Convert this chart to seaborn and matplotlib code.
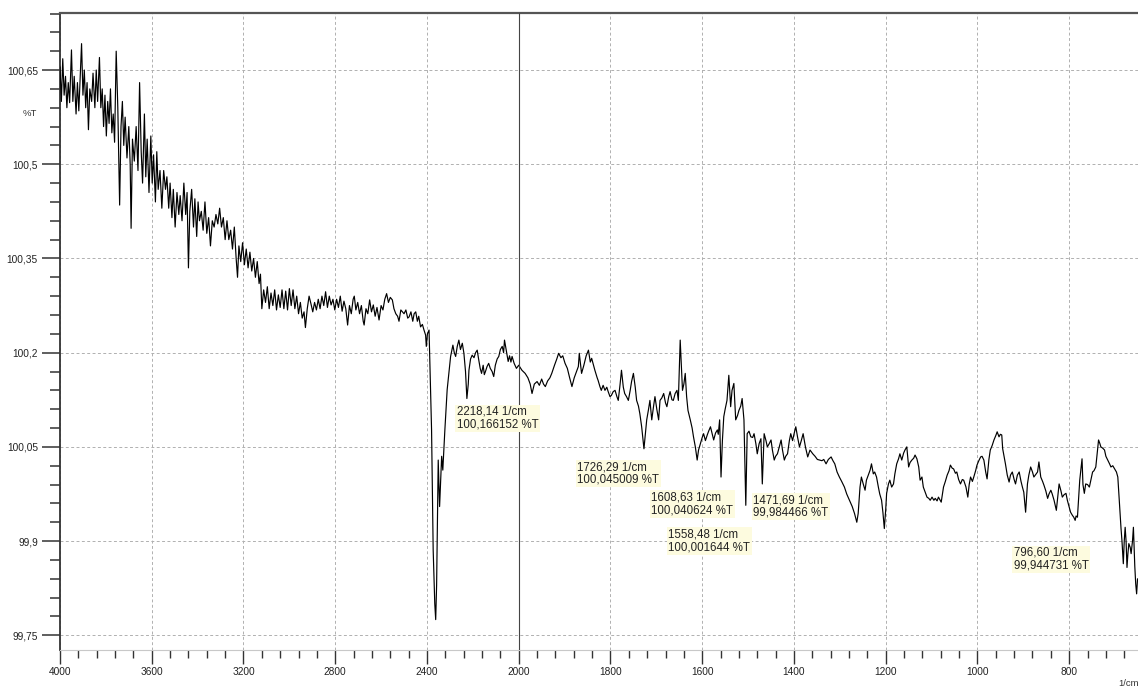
import numpy as np
import pandas as pd
import matplotlib
matplotlib.use("Agg")
import matplotlib.pyplot as plt
import seaborn as sns

# ---------------- data ----------------
seg_4000_2800 = [
    (4000, 100.655), (3994, 100.600), (3988, 100.668), (3982, 100.610), (3976, 100.640),
    (3970, 100.590), (3964, 100.630), (3958, 100.598), (3950, 100.682), (3944, 100.600),
    (3938, 100.640), (3930, 100.580), (3924, 100.630), (3918, 100.585), (3912, 100.640),
    (3906, 100.692), (3900, 100.610), (3894, 100.650), (3888, 100.590), (3882, 100.630),
    (3876, 100.555), (3870, 100.620), (3862, 100.600), (3856, 100.645), (3848, 100.590),
    (3842, 100.650), (3836, 100.600), (3828, 100.670), (3822, 100.590), (3816, 100.620),
    (3810, 100.560), (3804, 100.610), (3798, 100.545), (3792, 100.600), (3786, 100.565),
    (3780, 100.620), (3774, 100.550), (3768, 100.580), (3762, 100.535), (3755, 100.680),
    (3748, 100.590), (3740, 100.435), (3734, 100.560), (3728, 100.600), (3722, 100.530),
    (3716, 100.575), (3708, 100.510), (3700, 100.560), (3694, 100.500), (3690, 100.398),
    (3684, 100.540), (3676, 100.505), (3668, 100.560), (3660, 100.490), (3653, 100.630),
    (3646, 100.520), (3640, 100.470), (3632, 100.580), (3626, 100.480), (3620, 100.540),
    (3612, 100.455), (3604, 100.545), (3598, 100.470), (3592, 100.515), (3584, 100.440),
    (3578, 100.520), (3572, 100.460), (3564, 100.490), (3556, 100.430), (3548, 100.490),
    (3540, 100.460), (3534, 100.480), (3526, 100.430), (3520, 100.470), (3512, 100.415),
    (3506, 100.460), (3498, 100.400), (3490, 100.455), (3482, 100.420), (3476, 100.450),
    (3468, 100.410), (3460, 100.470), (3452, 100.420), (3446, 100.455), (3440, 100.335),
    (3434, 100.425), (3426, 100.460), (3418, 100.400), (3412, 100.445), (3404, 100.385),
    (3398, 100.440), (3392, 100.410), (3384, 100.425), (3376, 100.395), (3368, 100.440),
    (3360, 100.390), (3352, 100.415), (3344, 100.370), (3336, 100.410), (3328, 100.400),
    (3320, 100.420), (3312, 100.405), (3304, 100.430), (3296, 100.400), (3288, 100.415),
    (3280, 100.380), (3272, 100.410), (3264, 100.380), (3256, 100.395), (3248, 100.365),
    (3240, 100.400), (3232, 100.350), (3226, 100.320), (3220, 100.370), (3212, 100.345),
    (3204, 100.375), (3196, 100.340), (3188, 100.365), (3180, 100.335), (3172, 100.360),
    (3164, 100.330), (3156, 100.350), (3148, 100.320), (3140, 100.345), (3132, 100.310),
    (3126, 100.325), (3120, 100.270), (3112, 100.300), (3104, 100.280), (3096, 100.305),
    (3088, 100.270), (3080, 100.295), (3072, 100.275), (3064, 100.300), (3056, 100.268),
    (3048, 100.292), (3040, 100.272), (3032, 100.300), (3024, 100.270), (3016, 100.298),
    (3008, 100.268), (3000, 100.302), (2992, 100.275), (2984, 100.300), (2976, 100.270),
    (2968, 100.290), (2960, 100.262), (2952, 100.280), (2944, 100.255), (2936, 100.265),
    (2930, 100.240), (2922, 100.270), (2914, 100.290), (2906, 100.278), (2898, 100.265),
    (2890, 100.280), (2882, 100.268), (2874, 100.285), (2866, 100.270), (2858, 100.290),
    (2850, 100.275), (2842, 100.297), (2834, 100.272), (2826, 100.290), (2818, 100.276),
    (2810, 100.285),
]

seg_2800_2000 = [
    (2802, 100.268), (2794, 100.285), (2786, 100.272), (2778, 100.290), (2770, 100.266),
    (2762, 100.282), (2754, 100.270), (2746, 100.244), (2738, 100.275), (2730, 100.262),
    (2722, 100.285), (2717, 100.290), (2710, 100.268), (2702, 100.280), (2694, 100.262),
    (2686, 100.275), (2678, 100.250), (2674, 100.244), (2666, 100.270), (2658, 100.262),
    (2650, 100.284), (2642, 100.265), (2634, 100.276), (2626, 100.258), (2618, 100.272),
    (2609, 100.252), (2600, 100.275), (2592, 100.268), (2584, 100.285), (2576, 100.294),
    (2568, 100.280), (2560, 100.288), (2551, 100.284), (2544, 100.270), (2536, 100.262),
    (2528, 100.258), (2522, 100.250), (2514, 100.268), (2507, 100.265), (2500, 100.262),
    (2492, 100.268), (2484, 100.255), (2478, 100.257), (2470, 100.265), (2462, 100.250),
    (2456, 100.262), (2449, 100.265), (2442, 100.250), (2436, 100.258), (2428, 100.241),
    (2420, 100.245), (2413, 100.236), (2406, 100.228), (2403, 100.210), (2398, 100.230),
    (2391, 100.236), (2388, 100.194), (2380, 100.077), (2373, 99.886), (2366, 99.800),
    (2362, 99.775), (2358, 99.830), (2355, 99.918), (2351, 100.029), (2345, 99.955),
    (2336, 100.035), (2331, 100.013), (2322, 100.077), (2312, 100.141), (2297, 100.194),
    (2287, 100.212), (2281, 100.200), (2275, 100.194), (2268, 100.210), (2261, 100.220),
    (2254, 100.205), (2246, 100.215), (2239, 100.199), (2232, 100.170), (2226, 100.127),
    (2220, 100.150), (2217, 100.172), (2210, 100.190), (2203, 100.196), (2195, 100.192),
    (2188, 100.200), (2181, 100.204), (2175, 100.190), (2168, 100.175), (2162, 100.167),
    (2155, 100.180), (2150, 100.165), (2145, 100.170), (2138, 100.178), (2131, 100.183),
    (2124, 100.175), (2116, 100.170), (2109, 100.162), (2102, 100.180), (2094, 100.190),
    (2087, 100.194), (2080, 100.205), (2072, 100.210), (2066, 100.200), (2062, 100.220),
    (2055, 100.205), (2046, 100.186), (2040, 100.195), (2034, 100.185), (2029, 100.194),
    (2020, 100.183), (2010, 100.175), (2000, 100.180),
]

seg_2000_1260 = [
    (1993, 100.172), (1986, 100.167), (1980, 100.160), (1975, 100.150), (1971, 100.135),
    (1966, 100.150), (1960, 100.154), (1955, 100.148), (1950, 100.158), (1946, 100.150),
    (1942, 100.146), (1937, 100.155), (1932, 100.160), (1928, 100.167), (1922, 100.180),
    (1917, 100.190), (1913, 100.199), (1908, 100.192), (1904, 100.195), (1899, 100.183),
    (1894, 100.175), (1889, 100.160), (1884, 100.146), (1879, 100.160), (1874, 100.170),
    (1870, 100.178), (1868, 100.199), (1863, 100.167), (1858, 100.180), (1853, 100.195),
    (1848, 100.204), (1844, 100.185), (1841, 100.191), (1837, 100.180), (1834, 100.172),
    (1829, 100.160), (1827, 100.156), (1823, 100.146), (1820, 100.140), (1816, 100.148),
    (1812, 100.140), (1808, 100.145), (1805, 100.138), (1801, 100.130), (1798, 100.132),
    (1794, 100.138), (1790, 100.140), (1786, 100.130), (1783, 100.124), (1779, 100.150),
    (1776, 100.172), (1772, 100.145), (1769, 100.135), (1765, 100.130), (1761, 100.124),
    (1757, 100.140), (1754, 100.154), (1750, 100.167), (1746, 100.145), (1743, 100.124),
    (1739, 100.115), (1736, 100.103), (1732, 100.082), (1729, 100.060), (1727, 100.047),
    (1724, 100.070), (1721, 100.093), (1717, 100.110), (1714, 100.124), (1710, 100.093),
    (1706, 100.115), (1703, 100.130), (1699, 100.110), (1695, 100.093), (1692, 100.124),
    (1688, 100.128), (1684, 100.135), (1680, 100.120), (1677, 100.114), (1673, 100.130),
    (1670, 100.138), (1666, 100.125), (1663, 100.124), (1659, 100.135), (1655, 100.140),
    (1652, 100.124), (1648, 100.220), (1645, 100.170), (1643, 100.140), (1640, 100.150),
    (1637, 100.167), (1634, 100.130), (1631, 100.108), (1626, 100.093), (1622, 100.080),
    (1619, 100.066), (1615, 100.050), (1611, 100.029), (1608, 100.045), (1604, 100.055),
    (1600, 100.065), (1597, 100.071), (1593, 100.060), (1589, 100.069), (1586, 100.075),
    (1582, 100.082), (1578, 100.070), (1575, 100.061), (1571, 100.072), (1567, 100.077),
    (1565, 100.070), (1562, 100.093), (1559, 100.002), (1556, 100.060), (1553, 100.098),
    (1550, 100.110), (1546, 100.124), (1542, 100.164), (1538, 100.114), (1535, 100.140),
    (1531, 100.151), (1527, 100.093), (1523, 100.100), (1520, 100.108), (1516, 100.115),
    (1513, 100.127), (1509, 100.093), (1505, 99.957), (1502, 100.071), (1498, 100.075),
    (1494, 100.066), (1490, 100.065), (1487, 100.071), (1483, 100.055), (1480, 100.039),
    (1476, 100.055), (1472, 100.063), (1469, 99.991), (1465, 100.071), (1461, 100.060),
    (1458, 100.050), (1454, 100.055), (1450, 100.061), (1447, 100.045), (1443, 100.029),
    (1440, 100.035), (1436, 100.039), (1432, 100.050), (1428, 100.061), (1425, 100.045),
    (1421, 100.029), (1418, 100.035), (1414, 100.039), (1410, 100.060), (1407, 100.071),
    (1403, 100.060), (1400, 100.070), (1396, 100.082), (1392, 100.065), (1388, 100.050),
    (1384, 100.060), (1380, 100.071), (1375, 100.050), (1370, 100.034), (1365, 100.045),
    (1359, 100.039), (1354, 100.035), (1349, 100.030), (1344, 100.029), (1339, 100.028),
    (1335, 100.030), (1330, 100.023), (1325, 100.030), (1319, 100.034), (1315, 100.028),
    (1311, 100.023), (1306, 100.010), (1301, 100.002), (1296, 99.995), (1290, 99.986),
    (1285, 99.975), (1279, 99.965), (1273, 99.955), (1268, 99.944), (1263, 99.930),
]

seg_1260_650 = [
    (1260, 99.944), (1256, 99.986), (1253, 100.002), (1249, 99.991), (1245, 99.981),
    (1242, 99.997), (1238, 100.005), (1234, 100.013), (1231, 100.023), (1227, 100.007),
    (1224, 100.010), (1220, 100.002), (1216, 99.986), (1213, 99.975), (1209, 99.965),
    (1206, 99.945), (1203, 99.920), (1200, 99.950), (1198, 99.976), (1194, 99.991),
    (1191, 99.997), (1187, 99.986), (1183, 99.991), (1180, 100.007), (1176, 100.023),
    (1172, 100.031), (1169, 100.039), (1165, 100.029), (1161, 100.040), (1158, 100.045),
    (1154, 100.050), (1150, 100.018), (1147, 100.025), (1143, 100.029), (1139, 100.032),
    (1136, 100.037), (1132, 100.031), (1128, 100.018), (1125, 99.997), (1121, 100.002),
    (1118, 99.986), (1114, 99.978), (1110, 99.970), (1106, 99.968), (1103, 99.965),
    (1099, 99.970), (1095, 99.965), (1092, 99.968), (1088, 99.964), (1085, 99.970),
    (1082, 99.966), (1079, 99.962), (1074, 99.986), (1070, 99.995), (1066, 100.005),
    (1062, 100.012), (1059, 100.021), (1055, 100.016), (1052, 100.015), (1048, 100.008),
    (1045, 100.010), (1041, 99.998), (1037, 99.991), (1033, 99.998), (1030, 99.997),
    (1025, 99.986), (1021, 99.970), (1018, 99.990), (1015, 100.002), (1011, 99.995),
    (1008, 100.002), (1004, 100.012), (1001, 100.021), (997, 100.028), (993, 100.034),
    (990, 100.035), (986, 100.029), (982, 100.010), (979, 99.999), (975, 100.030),
    (972, 100.045), (968, 100.052), (964, 100.061), (960, 100.068), (957, 100.074),
    (953, 100.066), (950, 100.070), (947, 100.069), (945, 100.047), (942, 100.035),
    (939, 100.023), (935, 100.005), (931, 99.994), (928, 100.005), (924, 100.010),
    (920, 99.998), (917, 99.991), (913, 100.005), (909, 100.010), (905, 99.995),
    (902, 99.986), (899, 99.978), (895, 99.946), (891, 99.991), (888, 100.005),
    (884, 100.018), (880, 100.010), (877, 100.002), (873, 100.006), (869, 100.010),
    (866, 100.026), (862, 100.002), (858, 99.995), (855, 99.989), (851, 99.980),
    (847, 99.968), (844, 99.975), (840, 99.981), (837, 99.975), (833, 99.965),
    (828, 99.949), (825, 99.970), (822, 99.991), (818, 99.980), (815, 99.970),
    (811, 99.974), (807, 99.976), (804, 99.965), (800, 99.954), (797, 99.946),
    (793, 99.941), (790, 99.938), (787, 99.933), (785, 99.940), (782, 99.938),
    (777, 99.997), (772, 100.031), (770, 99.990), (767, 99.976), (764, 99.991),
    (760, 99.990), (756, 99.986), (752, 100.000), (749, 100.010), (746, 100.012),
    (742, 100.018), (736, 100.061), (733, 100.055), (731, 100.050), (727, 100.048),
    (723, 100.045), (720, 100.035), (716, 100.029), (712, 100.023), (709, 100.018),
    (705, 100.020), (701, 100.015), (697, 100.010), (694, 100.002), (690, 99.954),
    (687, 99.920), (685, 99.901), (682, 99.864), (680, 99.900), (678, 99.922),
    (676, 99.900), (674, 99.858), (672, 99.880), (670, 99.896), (667, 99.890),
    (665, 99.880), (662, 99.900), (660, 99.922), (657, 99.860), (655, 99.832),
    (653, 99.816), (651, 99.840),
]

peak_wavenumbers = [2218.14, 1726.29, 1608.63, 1558.48, 1471.69, 796.60]
peak_transmittance = [100.166152, 100.045009, 100.040624, 100.001644, 99.984466, 99.944731]
peak_labels = [
    "2218,14 1/cm\n100,166152 %T",
    "1726,29 1/cm\n100,045009 %T",
    "1608,63 1/cm\n100,040624 %T",
    "1558,48 1/cm\n100,001644 %T",
    "1471,69 1/cm\n99,984466 %T",
    "796,60 1/cm\n99,944731 %T",
]
label_offsets_px = [(-12, -32), (-67, -11), (-47, -39), (-53, -51), (-8, -6), (-57, -34)]

x_major = [4000, 3600, 3200, 2800, 2400, 2000, 1800, 1600, 1400, 1200, 1000, 800]
x_major_labels = ["4000", "3600", "3200", "2800", "2400", "2000",
                  "1800", "1600", "1400", "1200", "1000", "800"]
y_major = [99.75, 99.90, 100.05, 100.20, 100.35, 100.50, 100.65]
y_major_labels = ["99,75", "99,9", "100,05", "100,2", "100,35", "100,5", "100,65"]

# ---------------- build frame ----------------
rows = seg_4000_2800 + seg_2800_2000 + seg_2000_1260 + seg_1260_650
df = pd.DataFrame(rows, columns=["wavenumber", "transmittance"])

# ---------------- style ----------------
sns.set_style("ticks")
plt.rcParams["font.family"] = ["Liberation Sans", "DejaVu Sans"]

W, H = 1138, 686
fig = plt.figure(figsize=(W / 100, H / 100), dpi=100)
ax = fig.add_axes([60 / W, 36 / H, 1078 / W, 637 / H])


def fwd(x):
    x = np.asarray(x, dtype=float)
    return np.where(x >= 2000, 2000 + (x - 2000) / 2.0, x)


def inv(u):
    u = np.asarray(u, dtype=float)
    return np.where(u >= 2000, 2000 + (u - 2000) * 2.0, u)


ax.set_xscale("function", functions=(fwd, inv))

sns.lineplot(data=df, x="wavenumber", y="transmittance", ax=ax,
             color="black", lw=0.85, estimator=None, sort=False, zorder=3)

ax.set_xlim(4000, 650)
ax.set_ylim(99.7266, 100.7408)

# ticks
x_minor = [v for v in np.arange(4000, 2000, -80) if v % 400 != 0] + \
          [v for v in np.arange(2000, 650, -40) if v % 200 != 0]
ax.set_xticks(x_major)
ax.set_xticklabels(x_major_labels)
ax.set_xticks(x_minor, minor=True)
ax.set_yticks(y_major)
ax.set_yticklabels(y_major_labels)
y_minor = [v for v in np.arange(99.75, 100.745, 0.03)
           if min(abs(v - m) for m in y_major) > 1e-6]
ax.set_yticks(y_minor, minor=True)

ax.tick_params(axis="x", which="major", direction="out", length=10, width=1.0,
               color="#333333", pad=2.5, labelsize=7.3, labelcolor="#222222",
               bottom=True)
ax.tick_params(axis="x", which="minor", direction="out", length=6, width=1.0,
               color="#333333", bottom=True)
ax.tick_params(axis="y", which="major", direction="out", length=13, width=1.1,
               color="#333333", pad=3, labelsize=7.3, labelcolor="#222222",
               left=True)
ax.tick_params(axis="y", which="minor", direction="out", length=7.5, width=1.1,
               color="#333333", left=True)

ax.set_xlabel("")
ax.set_ylabel("")

# grid
ax.grid(True, which="major", color="#b0b0b0", linestyle=(0, (3, 2.5)), lw=0.7)
ax.set_axisbelow(True)

# spines
ax.spines["right"].set_visible(False)
ax.spines["top"].set_color("#555555")
ax.spines["top"].set_linewidth(1.6)
ax.spines["left"].set_color("#333333")
ax.spines["left"].set_linewidth(1.3)
ax.spines["bottom"].set_color("#c8c8c8")
ax.spines["bottom"].set_linewidth(0.8)

# cursor line
ax.axvline(2000, color="#444444", lw=0.8, zorder=4)

# peak annotations
for wn, t, lab, (dx, dy) in zip(peak_wavenumbers, peak_transmittance,
                                peak_labels, label_offsets_px):
    ax.annotate(lab, xy=(wn, t), xytext=(dx, dy), textcoords="offset pixels",
                ha="left", va="top", fontsize=8.3, color="#222222",
                linespacing=1.1, zorder=5,
                bbox=dict(boxstyle="square,pad=0.12", fc="#fdfbdf", ec="none"))

fig.text(30 / W, 1 - 114 / H, "%T", ha="center", va="center",
         fontsize=6.8, color="#333333")
fig.text(1118 / W, 1 - 683 / H, "1/cm", ha="left", va="center",
         fontsize=6.8, color="#333333")

fig.savefig("out.png", dpi=100)
